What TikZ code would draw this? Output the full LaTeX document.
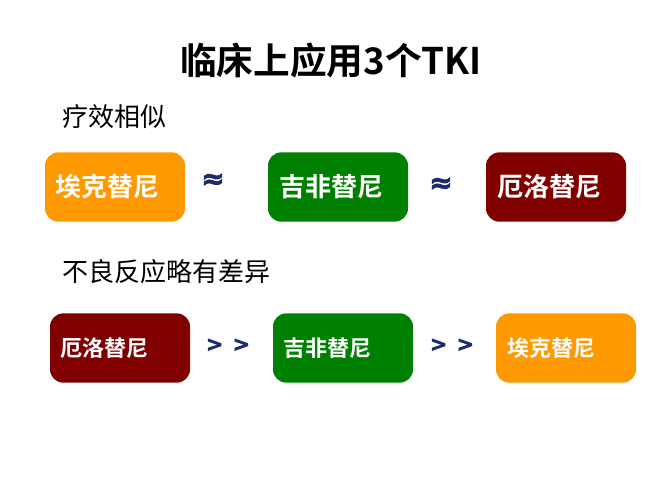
\documentclass[tikz,border=0pt]{standalone}
\usepackage{fontspec}
\newfontfamily\cjk{Noto Sans CJK SC}
\newfontfamily\cjkb{Noto Sans CJK SC Bold}
\newfontfamily\sym[FakeBold=2.5]{DejaVu Sans Bold}
\definecolor{cOrange}{HTML}{FF9900}
\definecolor{cGreen}{HTML}{008000}
\definecolor{cRed}{HTML}{800000}
\definecolor{cNavy}{HTML}{1C2A6E}
\tikzset{
  drug/.style={fill=#1, draw=none, rounded corners=10pt, minimum width=105pt, minimum height=52pt, inner sep=0pt},
  drugtxt/.style={text=white, anchor=west, inner sep=0pt},
  sub/.style={anchor=west, inner sep=0pt, font=\cjk\fontsize{19.5}{19.5}\selectfont},
  symb/.style={text=cNavy, inner sep=0pt, font=\sym\fontsize{21}{21}\selectfont},
  symbgt/.style={text=cNavy, inner sep=0pt, font=\sym\fontsize{15.5}{15.5}\selectfont}
}
\begin{document}
\begin{tikzpicture}[x=0.75pt,y=-0.75pt]
\useasboundingbox (0,0) rectangle (660,480);
\fill[white] (0,0) rectangle (660,480);
% title
\node[inner sep=0pt, font=\cjkb\fontsize{27.5}{27.5}\selectfont] (title) at (331,61) {临床上应用3个TKI};
% subtitles
\node[sub] (s1) at (62,117) {疗效相似};
\node[sub] (s2) at (62,272) {不良反应略有差异};
% row 1
\node[drug=cOrange] (a1) at (115,187) {};
\node[drug=cGreen] (b1) at (338,187) {};
\node[drug=cRed] (c1) at (556,187) {};
\node[drugtxt, font=\cjkb\fontsize{19.5}{19.5}\selectfont] (ta1) at (55,187) {埃克替尼};
\node[drugtxt, font=\cjkb\fontsize{19.5}{19.5}\selectfont] (tb1) at (279,187) {吉非替尼};
\node[drugtxt, font=\cjkb\fontsize{19.5}{19.5}\selectfont] (tc1) at (497,187) {厄洛替尼};
% row 2
\node[drug=cRed] (a2) at (120,348) {};
\node[drug=cGreen] (b2) at (343,348) {};
\node[drug=cOrange] (c2) at (566,348) {};
\node[drugtxt, font=\cjkb\fontsize{16.5}{16.5}\selectfont] (ta2) at (60,348) {厄洛替尼};
\node[drugtxt, font=\cjkb\fontsize{16.5}{16.5}\selectfont] (tb2) at (283,348) {吉非替尼};
\node[drugtxt, font=\cjkb\fontsize{16.5}{16.5}\selectfont] (tc2) at (507,348) {埃克替尼};
% symbols
\node[symb] (ap1) at (213,181) {≈};
\node[symb] (ap2) at (441,185) {≈};
\node[symbgt] (gt1) at (228,345) {>\hspace{7pt}>};
\node[symbgt] (gt2) at (452,345) {>\hspace{7pt}>};
\end{tikzpicture}
\end{document}
